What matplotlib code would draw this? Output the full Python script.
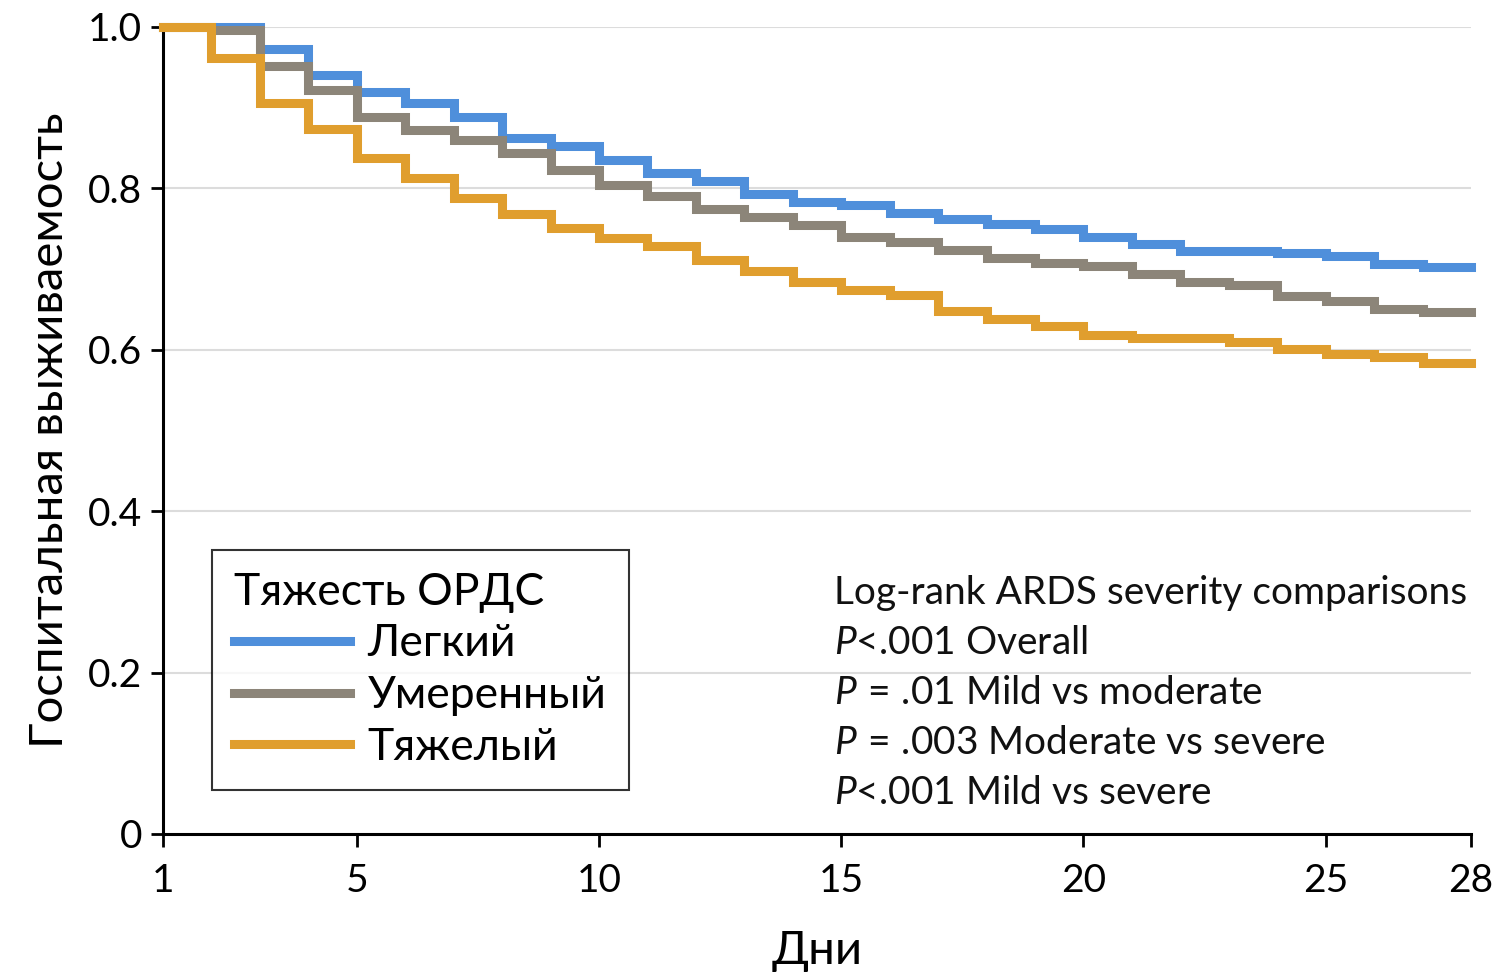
import matplotlib
matplotlib.use('Agg')
import matplotlib.pyplot as plt
import numpy as np

plt.rcParams['font.family'] = ['Lato', 'DejaVu Sans']
plt.rcParams['mathtext.fontset'] = 'custom'
plt.rcParams['mathtext.it'] = 'Lato:italic'
plt.rcParams['mathtext.rm'] = 'Lato'

# days (step starts)
days = np.arange(1, 29)

mild = [1.0, 1.0, 0.973, 0.940, 0.919, 0.906, 0.889, 0.862, 0.852, 0.835,
        0.819, 0.809, 0.793, 0.783, 0.779, 0.769, 0.762, 0.756, 0.750, 0.740,
        0.731, 0.723, 0.723, 0.720, 0.716, 0.706, 0.703, 0.703]
moderate = [1.0, 0.996, 0.952, 0.922, 0.889, 0.872, 0.860, 0.844, 0.823, 0.804,
            0.790, 0.774, 0.765, 0.754, 0.740, 0.733, 0.724, 0.714, 0.707, 0.704,
            0.694, 0.684, 0.680, 0.667, 0.661, 0.650, 0.647, 0.647]
severe = [1.0, 0.962, 0.906, 0.874, 0.838, 0.813, 0.788, 0.768, 0.751, 0.739,
          0.728, 0.711, 0.697, 0.684, 0.674, 0.668, 0.648, 0.638, 0.630, 0.618,
          0.614, 0.614, 0.610, 0.601, 0.595, 0.591, 0.584, 0.584]

labels = ['Легкий', 'Умеренный', 'Тяжелый']
colors = ['#4f8fdb', '#8c8579', '#e09e2e']

xticks = [1, 5, 10, 15, 20, 25, 28]
yticks = [0, 0.2, 0.4, 0.6, 0.8, 1.0]
yticklabels = ['0', '0.2', '0.4', '0.6', '0.8', '1.0']

stats = ['Log-rank ARDS severity comparisons',
         r'$\mathit{P}$<.001 Overall',
         r'$\mathit{P}\,=\,$.01 Mild vs moderate',
         r'$\mathit{P}\,=\,$.003 Moderate vs severe',
         r'$\mathit{P}$<.001 Mild vs severe']

fig = plt.figure(figsize=(15.04, 9.77), dpi=100)
ax = fig.add_axes([0.1084, 0.1464, 0.8697, 0.826])

for y in yticks[1:]:
    ax.axhline(y, color='#dcdcdc', lw=1.5, zorder=0)

lines = []
for vals, lab, c in zip([mild, moderate, severe], labels, colors):
    ln, = ax.step(days, vals, where='post', color=c, lw=6.5, label=lab,
                  solid_joinstyle='miter', clip_on=False, zorder=3)
    lines.append(ln)

ax.set_xlim(1, 28)
ax.set_ylim(0, 1.0)
ax.set_xticks(xticks)
ax.set_yticks(yticks)
ax.set_yticklabels(yticklabels)
ax.tick_params(axis='both', labelsize=28, length=9, width=2, direction='out', pad=6)
ax.tick_params(axis='x', pad=12)
for s in ['top', 'right']:
    ax.spines[s].set_visible(False)
for s in ['left', 'bottom']:
    ax.spines[s].set_linewidth(2.2)

ax.set_xlabel('Дни', fontsize=34, labelpad=22)
ax.set_ylabel('Госпитальная выживаемость', fontsize=34, labelpad=12)

leg = ax.legend(handles=lines, title='Тяжесть ОРДС', loc='lower left',
                bbox_to_anchor=(0.0375, 0.0545), borderaxespad=0,
                fontsize=32, title_fontsize=32,
                frameon=True, fancybox=False, handlelength=2.6,
                borderpad=0.5, labelspacing=0.24, handletextpad=0.4)
leg._legend_box.align = 'left'
leg.get_frame().set_edgecolor('black')
leg.get_frame().set_linewidth(1.5)

for i, t in enumerate(stats):
    ax.text(0.513, 0.299 - i * 0.062, t, transform=ax.transAxes, fontsize=28,
            va='center', ha='left', color='#111111')

fig.savefig('out.png', dpi=100)
